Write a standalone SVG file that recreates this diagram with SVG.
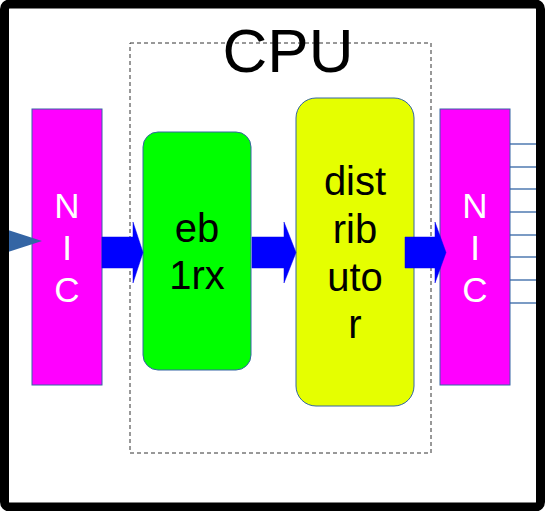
<svg xmlns="http://www.w3.org/2000/svg" width="545" height="511" viewBox="0 0 545 511">
<style>
.nic{fill:#ff00ff;stroke:#3465a4;stroke-width:1}
.nict{fill:#ffffff;font-family:"Liberation Sans",Arial,sans-serif;font-size:35px;text-anchor:middle}
.bt{fill:#000000;font-family:"Liberation Sans",Arial,sans-serif;font-size:40px;text-anchor:middle}
.blk{fill:#0000ff;stroke:#0000ee;stroke-width:0.5}
.wire{stroke:#3465a4;stroke-width:1.3;fill:none}
</style>
<rect x="0" y="0" width="545" height="511" fill="#ffffff"/>
<g id="cpu">
<rect x="130" y="43" width="301" height="410" fill="none" stroke="#333333" stroke-width="1" stroke-dasharray="4,3"/>
<text x="288" y="72" font-family="Liberation Sans,Arial,sans-serif" font-size="62" text-anchor="middle" fill="#000000">CPU</text>
</g>
<g id="nic-left">
<rect class="nic" x="32" y="109" width="70" height="276"/>
<text class="nict" x="67" y="218">N</text>
<text class="nict" x="67" y="260">I</text>
<text class="nict" x="67" y="302">C</text>
</g>
<g id="eb1rx">
<rect x="143" y="132" width="108" height="238" rx="15" ry="15" fill="#00ff00" stroke="#3465a4" stroke-width="1"/>
<text class="bt" x="197" y="242">eb</text>
<text class="bt" x="197" y="289">1rx</text>
</g>
<g id="distributor">
<rect x="296" y="98" width="118" height="308" rx="20" ry="20" fill="#e5ff00" stroke="#3465a4" stroke-width="1"/>
<text class="bt" x="355" y="195" font-size="41">dist</text>
<text class="bt" x="355" y="243" font-size="41">rib</text>
<text class="bt" x="355" y="291" font-size="41">uto</text>
<text class="bt" x="355" y="338" font-size="41">r</text>
</g>
<g id="nic-right">
<rect class="nic" x="440" y="109" width="70" height="276"/>
<text class="nict" x="475" y="218">N</text>
<text class="nict" x="475" y="260">I</text>
<text class="nict" x="475" y="302">C</text>
</g>
<g id="connectors">
<path class="blk" d="M102,237 H133 V222 L143,252.5 L133,283 V268 H102 Z"/>
<path class="blk" d="M252,237 H284 V222 L296,252.5 L284,283 V268 H252 Z"/>
<path class="blk" d="M405,237 H435 V222 L446,252.5 L435,283 V268 H405 Z"/>
<line class="wire" x1="0" y1="241" x2="10" y2="241"/>
<polygon points="8,230 42,241 8,252" fill="#3465a4"/>
<line class="wire" x1="510" y1="144" x2="540" y2="144"/>
<line class="wire" x1="510" y1="167" x2="540" y2="167"/>
<line class="wire" x1="510" y1="189" x2="540" y2="189"/>
<line class="wire" x1="510" y1="212" x2="540" y2="212"/>
<line class="wire" x1="510" y1="235" x2="540" y2="235"/>
<line class="wire" x1="510" y1="257" x2="540" y2="257"/>
<line class="wire" x1="510" y1="280" x2="540" y2="280"/>
<line class="wire" x1="510" y1="303" x2="540" y2="303"/>
</g>
<g id="frame">
<rect x="4.5" y="4" width="536" height="503" rx="5" ry="5" fill="none" stroke="#000000" stroke-width="9"/>
</g>
</svg>
